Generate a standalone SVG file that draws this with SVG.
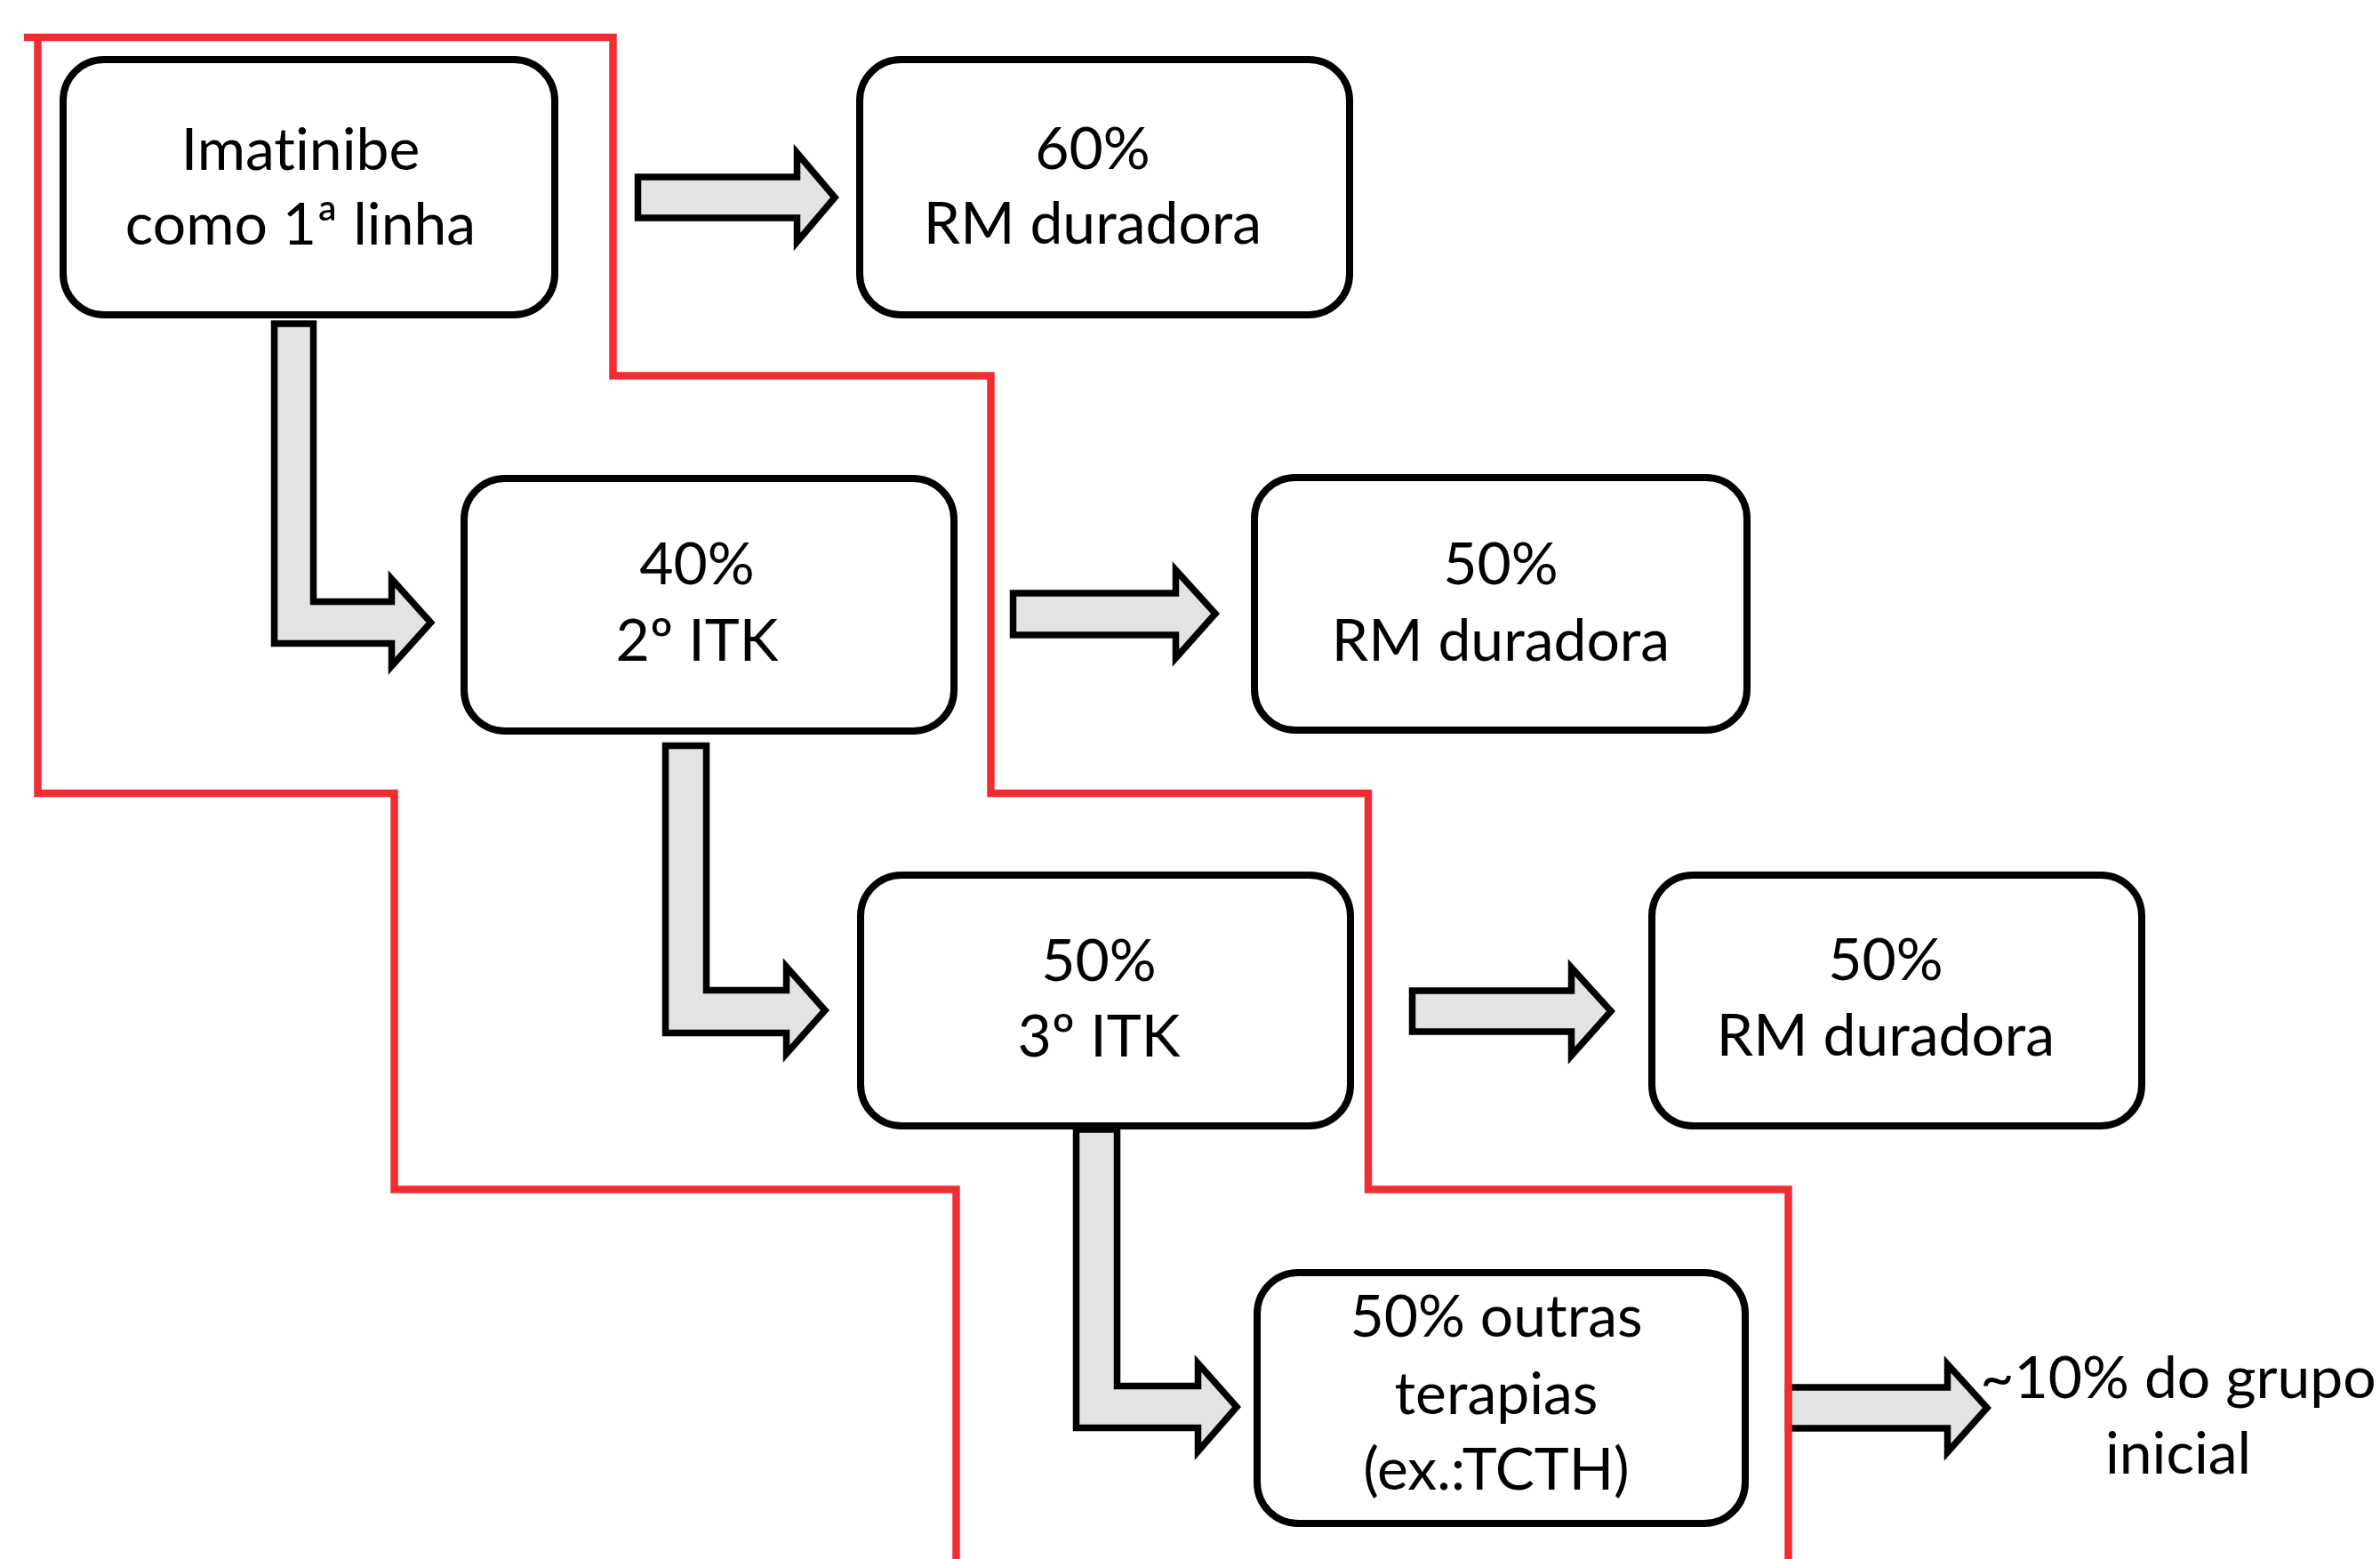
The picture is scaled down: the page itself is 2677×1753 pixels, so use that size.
<svg xmlns="http://www.w3.org/2000/svg" width="2677" height="1753" viewBox="0 0 2677 1753">
<style>
.box{fill:#fff;stroke:#000;stroke-width:8}
.arr{fill:#e3e3e3;stroke:#000;stroke-width:7.5;stroke-linejoin:miter;stroke-miterlimit:10}
.red{fill:none;stroke:#ee2e33;stroke-width:8.5;stroke-linejoin:miter}
text{font-family:Lato,"Open Sans","Liberation Sans",sans-serif;font-size:66px;fill:#000;text-anchor:middle;font-variant-ligatures:none;font-feature-settings:"liga" 0}
</style>
<rect width="2677" height="1753" fill="#fff"/>
<g id="n1"><rect class="box" x="71" y="67" width="553" height="287" rx="46"/><text x="338" y="191">Imatinibe</text><text x="338" y="275">como 1ª linha</text></g>
<g id="n1r"><rect class="box" x="967" y="67" width="551" height="287" rx="46"/><text x="1229" y="190">60%</text><text x="1229" y="274">RM duradora</text></g>
<g id="n2"><rect class="box" x="522" y="538" width="551" height="284" rx="46"/><text x="784" y="657">40%</text><text x="784" y="743">2º ITK</text></g>
<g id="n2r"><rect class="box" x="1411" y="537" width="554" height="284" rx="46"/><text x="1688" y="657">50%</text><text x="1688" y="743">RM duradora</text></g>
<g id="n3"><rect class="box" x="968" y="984" width="551" height="282" rx="46"/><text x="1236" y="1103">50%</text><text x="1236" y="1188">3º ITK</text></g>
<g id="n3r"><rect class="box" x="1858" y="984" width="551" height="282" rx="46"/><text x="2121" y="1102">50%</text><text x="2121" y="1187">RM duradora</text></g>
<g id="n4"><rect class="box" x="1414" y="1431" width="549" height="282" rx="46"/><text x="1683" y="1503">50% outras</text><text x="1683" y="1590">terapias</text><text x="1683" y="1675">(ex.:TCTH)</text></g>
<g id="n5"><text x="2450" y="1572">~10% do grupo</text><text x="2450" y="1657">inicial</text></g>
<g id="connectors">
<polygon class="arr" points="717.5,199 896.5,199 896.5,172 939,222 896.5,272 896.5,245 717.5,245"/>
<polygon class="arr" points="1139.5,667 1322.5,667 1322.5,641 1367,690 1322.5,740 1322.5,714 1139.5,714"/>
<polygon class="arr" points="1588.5,1114 1767.5,1114 1767.5,1088 1812,1137 1767.5,1187 1767.5,1160 1588.5,1160"/>
<polygon class="arr" points="2011.5,1560 2190.5,1560 2190.5,1534 2235,1583 2190.5,1633 2190.5,1606 2011.5,1606"/>
<polygon class="arr" points="308.5,364 352.5,364 352.5,676.5 440.5,676.5 440.5,651 484.5,700 440.5,749 440.5,723.5 308.5,723.5"/>
<polygon class="arr" points="748.5,838.5 794.5,838.5 794.5,1113.5 884.5,1113.5 884.5,1087 928,1136 884.5,1185 884.5,1161.5 748.5,1161.5"/>
<polygon class="arr" points="1210.5,1270 1256.5,1270 1256.5,1558.5 1347.5,1558.5 1347.5,1533 1391,1582 1347.5,1632 1347.5,1605.5 1210.5,1605.5"/>
</g>
<g id="boundaries">
<polyline class="red" points="27,42 689.5,42 689.5,422.5 1114.5,422.5 1114.5,892 1539,892 1539,1337.5 2011.5,1337.5 2011.5,1753"/>
<polyline class="red" points="42.5,42 42.5,892 443.5,892 443.5,1337.5 1075.5,1337.5 1075.5,1753"/>
</g>
</svg>
